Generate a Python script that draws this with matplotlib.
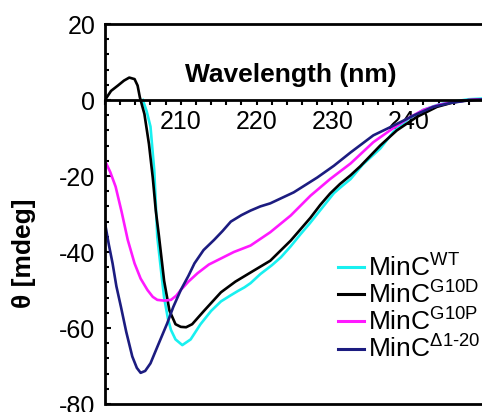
import matplotlib
matplotlib.use("Agg")
import matplotlib.pyplot as plt
from matplotlib.ticker import MultipleLocator, FixedLocator

plt.rcParams['font.family'] = ['Liberation Sans', 'DejaVu Sans']
plt.rcParams['mathtext.fontset'] = 'custom'
plt.rcParams['mathtext.rm'] = 'Liberation Sans'
plt.rcParams['mathtext.it'] = 'Liberation Sans:italic'
plt.rcParams['mathtext.bf'] = 'Liberation Sans:bold'
plt.rcParams['axes.unicode_minus'] = False

# ---- data ----
wl_wt = [205.0, 205.5, 206.0, 206.5, 206.9, 207.4, 207.8, 208.3, 208.7, 209.3, 210.2,
         211.3, 212.6, 214.0, 215.3, 216.5, 217.5, 218.4, 219.2, 220.5, 222.0, 223.2,
         224.5, 225.8, 227.0, 228.0, 229.2, 230.2, 231.3, 232.4, 234.0, 236.3, 238.0,
         240.0, 242.0, 244.0, 246.0, 248.0, 250.0]
th_wt = [0.0, -3.0, -7.0, -18.6, -36.0, -45.0, -52.0, -57.5, -60.5, -63.0, -64.5,
         -63.0, -59.0, -55.5, -53.0, -51.5, -50.3, -49.3, -48.2, -45.8, -43.5, -41.4,
         -38.5, -35.3, -32.5, -30.0, -27.0, -24.5, -22.6, -20.8, -17.0, -12.8, -8.5,
         -5.0, -2.6, -1.2, -0.4, 0.2, 0.4]

wl_g10d = [200.0, 200.8, 201.7, 202.5, 203.2, 203.9, 204.3, 204.6, 205.2, 205.8, 206.3,
           206.7, 207.1, 207.8, 208.5, 209.3, 210.0, 210.7, 211.5, 213.1, 215.3, 217.2,
           219.2, 221.8, 224.5, 227.1, 228.4, 229.7, 231.0, 232.4, 233.7, 236.3, 238.5,
           241.1, 243.8, 246.0, 248.0, 250.0]
th_g10d = [0.0, 2.4, 3.8, 5.1, 5.9, 5.5, 3.8, 0.7, -3.7, -11.6, -20.4,
           -29.1, -35.5, -47.6, -55.4, -59.0, -59.7, -59.8, -59.0, -55.4, -50.6, -47.8,
           -45.4, -42.3, -37.0, -31.0, -27.6, -24.6, -22.1, -19.8, -17.4, -12.0, -8.0,
           -4.5, -1.8, -0.6, 0.0, 0.2]

wl_g10p = [200.0, 200.7, 201.4, 202.2, 203.0, 203.9, 204.7, 205.6, 206.3, 206.9, 207.8,
           208.7, 209.4, 210.0, 211.0, 212.2, 213.7, 215.3, 217.0, 219.2, 221.8, 224.5,
           227.1, 229.7, 232.4, 235.4, 237.6, 240.0, 242.0, 244.0, 246.0, 248.0, 250.0]
th_g10p = [-16.0, -19.0, -22.8, -29.5, -36.8, -43.0, -47.0, -50.0, -51.8, -52.6, -52.8,
           -52.6, -51.5, -50.0, -47.8, -45.6, -43.3, -41.7, -40.0, -38.3, -34.8, -30.4,
           -25.2, -20.8, -16.7, -11.1, -8.0, -4.8, -2.6, -1.3, -0.5, 0.0, 0.2]

wl_d120 = [200.0, 200.5, 201.0, 201.5, 202.1, 202.8, 203.6, 204.2, 204.7, 205.3, 206.0,
           207.0, 208.2, 209.0, 210.0, 211.0, 211.8, 213.0, 214.4, 215.5, 216.6, 218.0,
           219.2, 220.5, 221.8, 224.9, 228.0, 230.2, 232.4, 235.4, 238.1, 240.7, 243.3,
           245.5, 248.0, 250.0]
th_d120 = [-32.4, -38.0, -43.0, -49.0, -54.4, -61.0, -67.5, -70.5, -71.8, -71.3, -69.3,
           -64.5, -58.8, -54.5, -50.0, -46.3, -43.0, -39.5, -36.8, -34.5, -32.0, -30.3,
           -29.1, -28.0, -27.2, -24.3, -20.4, -17.3, -13.8, -9.3, -6.7, -4.1, -1.8,
           -0.8, -0.1, 0.2]

labels = [r'$\mathrm{MinC^{WT}}$', r'$\mathrm{MinC^{G10D}}$',
          r'$\mathrm{MinC^{G10P}}$', r'$\mathrm{MinC^{\Delta1‐20}}$']
colors = ['#19F0F0', '#000000', '#FF19FF', '#1C1C80']

xticks_major = [210, 220, 230, 240]
yticks_major = [20, 0, -20, -40, -60, -80]

# ---- figure ----
W, H = 482, 412
fig = plt.figure(figsize=(W / 100, H / 100), dpi=100)
left, right, top, bottom = 105, 484, 24, 404
ax = fig.add_axes([left / W, 1 - bottom / H, (right - left) / W, (bottom - top) / H])

series = [(wl_wt, th_wt), (wl_g10d, th_g10d), (wl_g10p, th_g10p), (wl_d120, th_d120)]
for (x, y), c, lab in zip(series, colors, labels):
    ax.plot(x, y, color=c, lw=1.9, label=lab, solid_joinstyle='round')

ax.set_xlim(200, 250)
ax.set_ylim(-80, 20)

lw_sp = 2.0
ax.spines['right'].set_visible(False)
ax.spines['top'].set_linewidth(lw_sp)
ax.spines['left'].set_linewidth(lw_sp)
ax.spines['bottom'].set_linewidth(lw_sp)
ax.spines['bottom'].set_position(('data', 0))
ax.plot([0, 1.02], [0, 0], transform=ax.transAxes, color='black', lw=lw_sp,
        clip_on=False, solid_capstyle='butt')

ax.xaxis.set_major_locator(FixedLocator(xticks_major))
ax.xaxis.set_minor_locator(MultipleLocator(2))
ax.yaxis.set_major_locator(FixedLocator(yticks_major))
ax.yaxis.set_minor_locator(MultipleLocator(4))
ax.set_yticklabels([str(v) for v in yticks_major])

ax.tick_params(axis='x', which='both', direction='out', length=3.5, width=1.5,
               labelsize=18, pad=4, top=False)
ax.tick_params(axis='y', which='major', direction='in', length=4, width=1.5,
               labelsize=18, pad=7, right=False)
ax.tick_params(axis='y', which='minor', direction='in', length=3, width=1.5, right=False)

fig.text(291 / W, 1 - 82 / H, 'Wavelength (nm)', ha='center', va='baseline',
         fontsize=19, fontweight='bold')
fig.text(24 / W, 1 - 253 / H, 'θ [mdeg]', ha='center', va='center', rotation=90,
         fontsize=19, fontweight='bold')

leg = ax.legend(loc='upper left', bbox_to_anchor=(338 / W, 1 - 254 / H),
                bbox_transform=fig.transFigure, frameon=False, fontsize=19,
                handlelength=1.0, handletextpad=0.15, labelspacing=0.0,
                borderpad=0, borderaxespad=0)
for ln in leg.get_lines():
    ln.set_linewidth(2.2)

fig.savefig('out.png', dpi=100)
